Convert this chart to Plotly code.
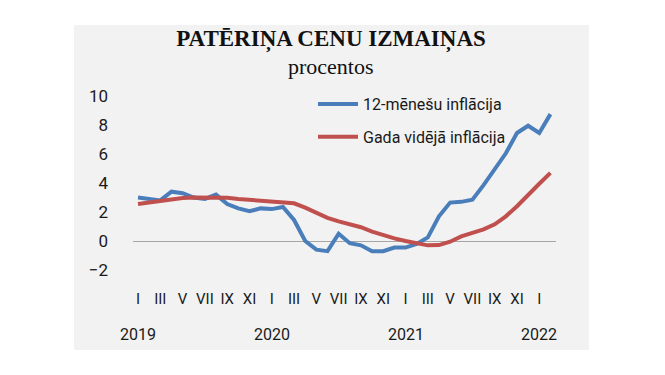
import plotly.graph_objects as go

months = list(range(38))  # Jan 2019 .. Feb 2022
roman = ["I", "III", "V", "VII", "IX", "XI"]
tick_vals = list(range(0, 37, 2))
tick_text = [roman[i % 6] for i in range(len(tick_vals))]
year_vals = [0, 12, 24, 36]
year_text = ["2019", "2020", "2021", "2022"]

infl_12m = [3.0, 2.9, 2.8, 3.4, 3.3, 3.0, 2.9, 3.2, 2.55, 2.25, 2.05, 2.25,
            2.2, 2.35, 1.45, 0.0, -0.6, -0.7, 0.5, -0.15, -0.3, -0.7, -0.7, -0.45,
            -0.45, -0.2, 0.25, 1.7, 2.65, 2.7, 2.85, 3.85, 4.95, 6.05, 7.45, 7.95,
            7.45, 8.75]
infl_avg = [2.55, 2.65, 2.78, 2.9, 2.97, 3.0, 3.0, 3.0, 2.98, 2.9, 2.83, 2.78,
            2.72, 2.68, 2.6, 2.3, 1.95, 1.6, 1.35, 1.15, 0.95, 0.65, 0.4, 0.18,
            0.0, -0.15, -0.3, -0.28, -0.05, 0.32, 0.57, 0.8, 1.15, 1.7, 2.4, 3.2,
            3.95, 4.7]

SANS = "Roboto, Liberation Sans, sans-serif"
SERIF = "Liberation Serif, Times New Roman, serif"
BG = "#F2F2F2"
TXT = "#1a1a1a"

fig = go.Figure()
fig.add_trace(go.Scatter(x=months, y=infl_12m, mode="lines", name="12-mēnešu inflācija",
                         line=dict(color="#4A7EBB", width=4), legendgroup="a"))
fig.add_trace(go.Scatter(x=months, y=infl_avg, mode="lines", name="Gada vidējā inflācija",
                         line=dict(color="#C0504D", width=4), legendgroup="b"))

W, H = 665, 375
L, R, T, B = 133, 109, 96, 105
pw, ph = W - L - R, H - T - B

def px_x(p):
    return (p - L) / pw

def px_y(p):
    return (H - B - p) / ph

fig.add_shape(type="rect", xref="paper", yref="paper",
              x0=px_x(74), x1=px_x(589), y0=px_y(350), y1=px_y(25),
              fillcolor=BG, line=dict(width=0), layer="below")

for v, t in zip(year_vals, year_text):
    fig.add_annotation(x=v, y=0, xref="x", yref="paper", text=t, showarrow=False,
                       yanchor="top", yshift=-53, font=dict(family=SANS, size=16, color=TXT))

fig.add_annotation(x=px_x(331), y=px_y(67), xref="paper", yref="paper", text="procentos",
                   showarrow=False, yanchor="middle", xanchor="center",
                   font=dict(family=SERIF, size=22, color="#111"))

fig.update_layout(
    width=W, height=H,
    margin=dict(l=L, r=R, t=T, b=B),
    paper_bgcolor="white", plot_bgcolor=BG,
    title=dict(text="<b>PATĒRIŅA CENU IZMAIŅAS</b>", x=331 / W, y=1 - 38 / H,
               xanchor="center", yanchor="middle", xref="container", yref="container",
               font=dict(family=SERIF, size=23, color="#111")),
    showlegend=True,
    legend=dict(x=px_x(313), y=px_y(87), xanchor="left", yanchor="top",
                bgcolor="rgba(0,0,0,0)", font=dict(family=SANS, size=16, color=TXT),
                tracegroupgap=9, itemwidth=40),
    xaxis=dict(range=[-0.45, 37.5], tickvals=tick_vals, ticktext=tick_text,
               showgrid=False, zeroline=False, showline=False, ticks="",
               ticklabelstandoff=18, tickfont=dict(family=SANS, size=15, color=TXT)),
    yaxis=dict(range=[-2, 10], tickvals=[-2, 0, 2, 4, 6, 8, 10],
               showgrid=False, zeroline=True, zerolinecolor="#A6A6A6", zerolinewidth=1,
               showline=False, ticks="", ticklabelstandoff=24,
               tickfont=dict(family=SANS, size=17, color=TXT)),
)

fig.write_html("out.html", config={"displayModeBar": False},
               post_script="document.body.style.margin='0';")
